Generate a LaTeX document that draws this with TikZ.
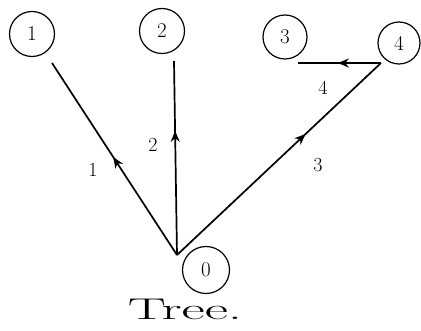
\documentclass[tikz,border=0pt]{standalone}
\usepackage{fontspec}
\usetikzlibrary{decorations.markings,arrows.meta}
\begin{document}
\begin{tikzpicture}[x=1pt,y=-1pt,
  vnode/.style={circle,draw,line width=1.2pt,minimum size=45pt,inner sep=0pt,font=\fontsize{21}{24}\selectfont},
  lbl/.style={font=\fontsize{20}{23}\selectfont},
  edge/.style={line width=1.7pt,postaction={decorate},
    decoration={markings,mark=at position #1 with {\arrow{Stealth[length=11pt,width=9pt]}}}},
  edge/.default=0.55]
\useasboundingbox (0,0) rectangle (421,331);
\node[vnode] (n1) at (32,34) {1};
\node[vnode] (n2) at (162,31) {2};
\node[vnode,minimum size=44pt] (n3) at (285,37) {3};
\node[vnode,minimum size=42pt] (n4) at (399,43) {4};
\node[vnode,minimum size=47pt] (n0) at (206,270) {0};
\coordinate (r) at (177,255);
\coordinate (e1) at (52,63);
\coordinate (e2) at (174,61);
\coordinate (e4) at (381,63);
\coordinate (e3) at (298,63);
\draw[edge=0.51] (r) -- (e1);
\draw[edge=0.64] (r) -- (e2);
\draw[edge=0.63] (r) -- (e4);
\draw[edge=0.52] (e4) -- (e3);
\node[lbl] (l1) at (93,170) {1};
\node[lbl] (l2) at (153,145) {2};
\node[lbl] (l3) at (318,165) {3};
\node[lbl] (l4) at (323,88) {4};
\node[font=\fontsize{30}{34}\selectfont,xscale=1.9] (t) at (185,309) {Tree.};
\end{tikzpicture}
\end{document}
